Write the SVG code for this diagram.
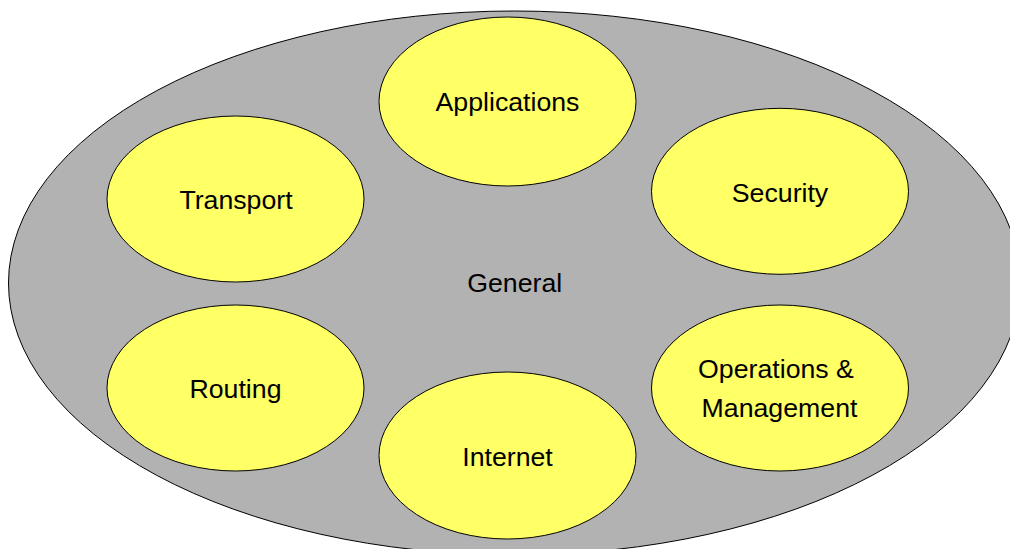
<svg xmlns="http://www.w3.org/2000/svg" width="1010" height="549" viewBox="0 0 1010 549">
<style>
.outer{fill:#b2b2b2;stroke:#000;stroke-width:1}
.node{fill:#ffff66;stroke:#000;stroke-width:1}
text{font-family:"Liberation Sans",Arial,sans-serif;font-size:26.7px;fill:#000;text-anchor:middle}
</style>
<rect width="1010" height="549" fill="#fff"/>
<g id="general">
<ellipse class="outer" cx="514.5" cy="283" rx="506" ry="272"/>
<text x="514.7" y="291.7">General</text>
</g>
<g id="connectors"></g>
<g id="applications">
<ellipse class="node" cx="507.5" cy="101.5" rx="128.5" ry="84.5"/>
<text x="507.5" y="110.7">Applications</text>
</g>
<g id="transport">
<ellipse class="node" cx="235.5" cy="199" rx="128.5" ry="83"/>
<text x="236" y="209">Transport</text>
</g>
<g id="security">
<ellipse class="node" cx="780" cy="191.3" rx="128.5" ry="83"/>
<text x="780" y="201.7">Security</text>
</g>
<g id="routing">
<ellipse class="node" cx="235.5" cy="388" rx="128.5" ry="83"/>
<text x="235.5" y="397.5">Routing</text>
</g>
<g id="operations">
<ellipse class="node" cx="780" cy="388" rx="128.5" ry="83"/>
<text x="776" y="378.3">Operations &amp;</text>
<text x="779.5" y="416.7">Management</text>
</g>
<g id="internet">
<ellipse class="node" cx="507.5" cy="455.5" rx="128.5" ry="83.5"/>
<text x="507.5" y="465.7">Internet</text>
</g>
</svg>
